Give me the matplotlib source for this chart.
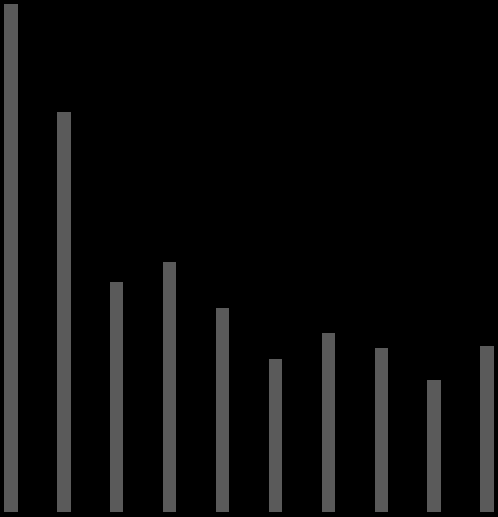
import matplotlib
matplotlib.use("Agg")
import matplotlib.pyplot as plt
import numpy as np

# valeurs (hauteur des barres)
categories = list(range(10))
valeurs = [508, 400, 230, 250, 204, 153, 179, 164, 132, 166]

fig = plt.figure(figsize=(4.98, 5.17), dpi=100, facecolor="black")
ax = fig.add_axes([0, 0, 1, 1])
ax.set_facecolor("black")

ax.bar(categories, valeurs, width=0.25, color="#5a5a5a")

ax.set_xlim(-0.21, 9.21)
ax.set_ylim(-5, 512)
ax.axis("off")

fig.savefig("out.png", dpi=100, facecolor="black")
